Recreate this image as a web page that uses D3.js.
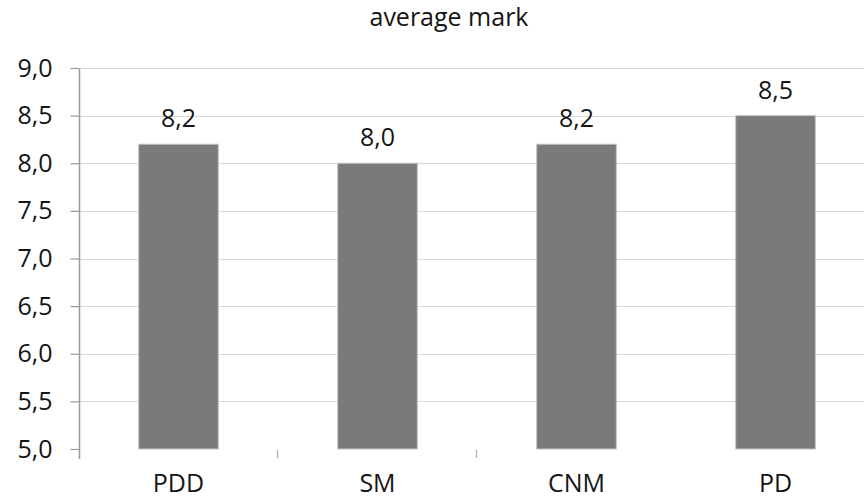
<!DOCTYPE html>
<html>
<head>
<meta charset="utf-8">
<script src="https://cdn.jsdelivr.net/npm/d3@7"></script>
<style>
  html, body { margin: 0; padding: 0; background: #fff; }
  svg { display: block; }
  text { font-family: "Open Sans", "DejaVu Sans", sans-serif; fill: #151515; }
</style>
</head>
<body>
<svg id="chart" width="864" height="499"></svg>
<script>
const categories = ["PDD", "SM", "CNM", "PD"];
const values = [8.2, 8.0, 8.2, 8.5];
const yTicks = [5.0, 5.5, 6.0, 6.5, 7.0, 7.5, 8.0, 8.5, 9.0];
const title = "average mark";

const svg = d3.select("#chart");
const fmt = v => d3.format(".1f")(v).replace(".", ",");

const plotLeft = 79, plotTop = 68, plotBottom = 449, bandW = 199;
const fontSize = 25;
const x = d3.scaleBand()
  .domain(categories)
  .range([plotLeft, plotLeft + bandW * categories.length])
  .paddingInner(0.6)
  .paddingOuter(0.3);
const y = d3.scaleLinear().domain([5, 9]).range([plotBottom, plotTop]);

// horizontal gridlines
svg.append("g")
  .selectAll("line")
  .data(yTicks.filter(t => t > 5))
  .join("line")
  .attr("x1", plotLeft).attr("x2", 864)
  .attr("y1", d => Math.round(y(d)) + 0.5).attr("y2", d => Math.round(y(d)) + 0.5)
  .attr("stroke", "#d9d9d9").attr("stroke-width", 1.2);

// y axis
const yAxis = svg.append("g")
  .attr("transform", `translate(${plotLeft + 0.5},0)`)
  .call(d3.axisLeft(y).tickValues(yTicks).tickFormat(fmt).tickSize(9).tickPadding(18));
yAxis.select(".domain").remove();
yAxis.selectAll(".tick line").attr("stroke", "#9a9a9a").attr("stroke-width", 1.2);
yAxis.selectAll(".tick text")
  .attr("font-size", fontSize).attr("fill", "#151515")
  .attr("font-family", "'Open Sans', sans-serif");
svg.append("line")
  .attr("x1", plotLeft + 0.5).attr("x2", plotLeft + 0.5)
  .attr("y1", plotTop + 1).attr("y2", plotBottom + 10)
  .attr("stroke", "#9a9a9a").attr("stroke-width", 1.5);

// category separators below the baseline
svg.append("g")
  .selectAll("line")
  .data(categories.slice(1, 3))
  .join("line")
  .attr("x1", d => x(d) - x.step() * x.paddingInner() / 2 - 0.5)
  .attr("x2", d => x(d) - x.step() * x.paddingInner() / 2 - 0.5)
  .attr("y1", plotBottom + 1).attr("y2", plotBottom + 9)
  .attr("stroke", "#aaaaaa").attr("stroke-width", 1.2);

const rows = categories.map((c, i) => ({ c, v: values[i] }));

// bars
svg.append("g")
  .selectAll("rect")
  .data(rows)
  .join("rect")
  .attr("x", d => x(d.c))
  .attr("width", x.bandwidth())
  .attr("y", d => y(d.v))
  .attr("height", d => y(5) - y(d.v))
  .attr("fill", "#7a7a7a")
  .attr("stroke", "#c4c4c4").attr("stroke-width", 1);

// value labels
svg.append("g")
  .selectAll("text")
  .data(rows)
  .join("text")
  .attr("x", d => x(d.c) + x.bandwidth() / 2)
  .attr("y", d => y(d.v) - 17)
  .attr("text-anchor", "middle")
  .attr("font-size", fontSize)
  .text(d => fmt(d.v));

// category labels
svg.append("g")
  .selectAll("text")
  .data(categories)
  .join("text")
  .attr("x", d => x(d) + x.bandwidth() / 2)
  .attr("y", 492)
  .attr("text-anchor", "middle")
  .attr("font-size", fontSize)
  .text(d => d);

// title
svg.append("text")
  .attr("x", 449).attr("y", 26)
  .attr("text-anchor", "middle")
  .attr("font-size", 25)
  .attr("fill", "#202020")
  .text(title);
</script>
</body>
</html>
